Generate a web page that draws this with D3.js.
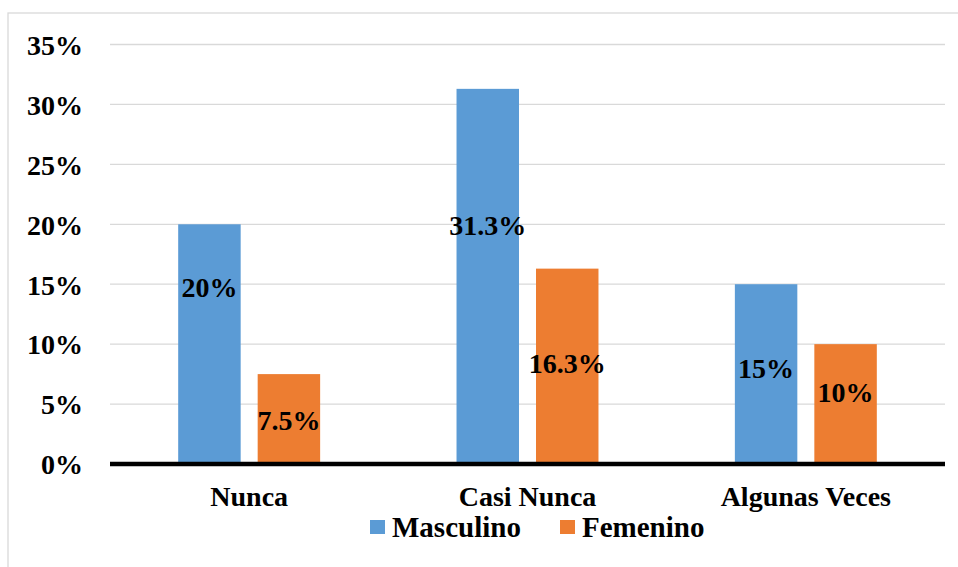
<!DOCTYPE html>
<html>
<head>
<meta charset="utf-8">
<script src="https://cdn.jsdelivr.net/npm/d3@7"></script>
<style>
  html, body { margin: 0; padding: 0; background: #fff; }
  svg text { font-family: "Liberation Serif", "Times New Roman", serif !important; font-weight: bold; fill: #000; }
</style>
</head>
<body>
<svg id="chart" width="958" height="567"></svg>
<script>
// ---- data ----
const categories = ["Nunca", "Casi Nunca", "Algunas Veces"];
const seriesNames = ["Masculino", "Femenino"];
const masculino = [0.20, 0.313, 0.15];
const femenino = [0.075, 0.163, 0.10];
const masculinoLabels = ["20%", "31.3%", "15%"];
const femeninoLabels = ["7.5%", "16.3%", "10%"];
// where each data label's centre sits, in value units (as placed in the original)
const masculinoLabelAt = [0.1475, 0.199, 0.08];
const femeninoLabelAt = [0.0367, 0.084, 0.06];
const yTicks = [0, 0.05, 0.10, 0.15, 0.20, 0.25, 0.30, 0.35];
const colors = ["#5B9BD5", "#ED7D31"];

const values = [masculino, femenino];
const labels = [masculinoLabels, femeninoLabels];
const labelAt = [masculinoLabelAt, femeninoLabelAt];

const svg = d3.select("#chart");
const mLeft = 110, mRight = 945, mTop = 44.5, mBottom = 464;
const FONT = "'Liberation Serif', 'Times New Roman', serif";

// chart frame
svg.append("rect").attr("x", 8).attr("y", 13).attr("width", 970).attr("height", 570)
  .attr("fill", "none").attr("stroke", "#d9d9d9").attr("stroke-width", 1.3);

const x = d3.scaleBand().domain(categories).range([mLeft, mRight]).paddingInner(0.49).paddingOuter(0.245);
const xs = d3.scaleBand().domain(seriesNames).range([0, x.bandwidth()]).paddingInner(0.214).paddingOuter(0);
const y = d3.scaleLinear().domain([0, 0.35]).range([mBottom, mTop]);

// gridlines
svg.append("g").selectAll("line").data(yTicks.filter(d => d > 0)).join("line")
  .attr("x1", mLeft).attr("x2", mRight)
  .attr("y1", d => y(d)).attr("y2", d => y(d))
  .attr("stroke", "#d9d9d9").attr("stroke-width", 1.3);

// y tick labels
const yAxis = d3.axisLeft(y).tickValues(yTicks).tickFormat(d3.format(".0%")).tickSize(0).tickPadding(0);
const ya = svg.append("g").attr("transform", "translate(83,0)").call(yAxis)
  .attr("font-family", FONT).attr("font-size", 28);
ya.select(".domain").remove();
ya.selectAll("text").attr("font-size", 28).attr("font-family", FONT).attr("dy", "0.35em");

// bars
const groups = svg.append("g").selectAll("g").data(categories).join("g")
  .attr("transform", d => `translate(${x(d)},0)`);
groups.selectAll("rect").data((c, i) => seriesNames.map((s, j) => ({ s, j, v: values[j][i] }))).join("rect")
  .attr("x", d => xs(d.s)).attr("width", xs.bandwidth())
  .attr("y", d => y(d.v)).attr("height", d => y(0) - y(d.v))
  .attr("fill", d => colors[d.j]);

// data labels
groups.selectAll("text.lbl").data((c, i) => seriesNames.map((s, j) => ({ s, j, t: labels[j][i], at: labelAt[j][i] }))).join("text")
  .attr("class", "lbl")
  .attr("x", d => xs(d.s) + xs.bandwidth() / 2)
  .attr("y", d => y(d.at)).attr("dy", "0.35em")
  .attr("text-anchor", "middle").attr("font-size", 28).attr("font-family", FONT)
  .text(d => d.t);

// x axis baseline
svg.append("line").attr("x1", mLeft).attr("x2", mRight).attr("y1", y(0)).attr("y2", y(0))
  .attr("stroke", "#000").attr("stroke-width", 4.5);

// category labels
const xAxis = d3.axisBottom(x).tickSize(0).tickPadding(0);
const xa = svg.append("g").attr("transform", "translate(0,506)").call(xAxis)
  .attr("font-family", FONT).attr("font-size", 28);
xa.select(".domain").remove();
xa.selectAll("text").attr("font-size", 28).attr("font-family", FONT).attr("dy", 0).attr("y", 0);

// legend
const legendX = [370, 560];
const lg = svg.append("g").selectAll("g").data(seriesNames).join("g")
  .attr("transform", (d, i) => `translate(${legendX[i]},520)`);
lg.append("rect").attr("width", 15).attr("height", 14).attr("fill", (d, i) => colors[i]);
lg.append("text").attr("x", 22).attr("y", 17).attr("font-size", 29).attr("font-family", FONT).text(d => d);
</script>
</body>
</html>
